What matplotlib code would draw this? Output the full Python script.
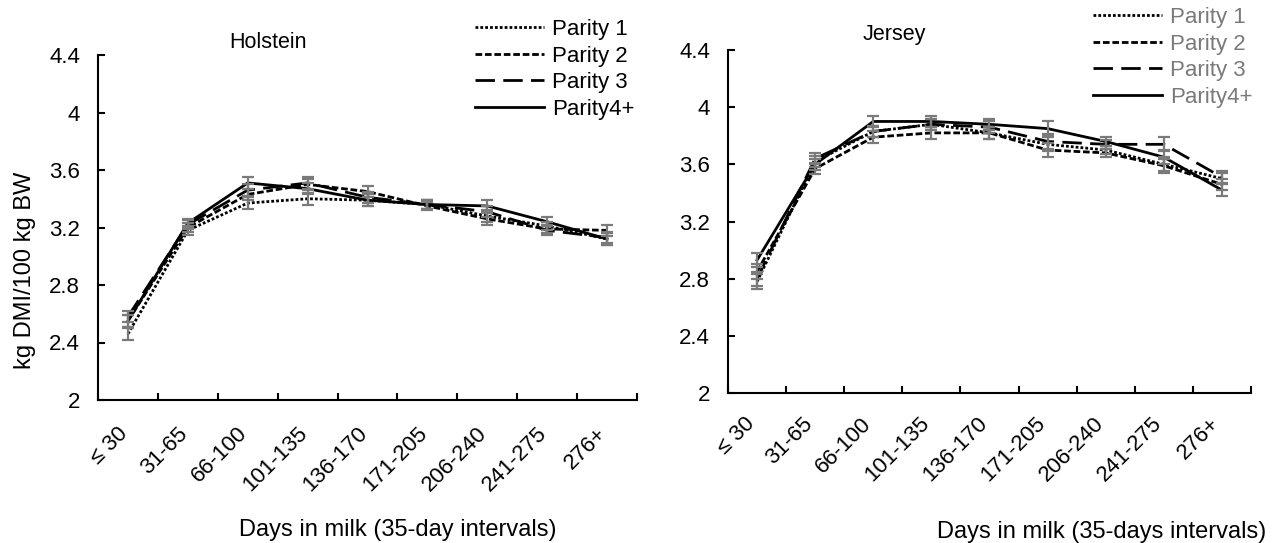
import numpy as np
import matplotlib.pyplot as plt
import matplotlib.transforms as mtransforms

plt.rcParams['font.family'] = ['Liberation Sans', 'DejaVu Sans']

# categories (days in milk, 35-day intervals)
dim_labels = ['≤ 30', '31-65', '66-100', '101-135', '136-170', '171-205',
              '206-240', '241-275', '276+']
parity_names = ['Parity 1', 'Parity 2', 'Parity 3', 'Parity4+']

# Holstein, kg DMI/100 kg BW
hol_p1 = [2.46, 3.18, 3.37, 3.40, 3.39, 3.36, 3.28, 3.21, 3.12]
hol_p2 = [2.55, 3.20, 3.43, 3.50, 3.45, 3.35, 3.26, 3.19, 3.18]
hol_p3 = [2.58, 3.22, 3.46, 3.51, 3.41, 3.36, 3.31, 3.18, 3.13]
hol_p4 = [2.55, 3.23, 3.51, 3.47, 3.39, 3.36, 3.35, 3.24, 3.12]
hol_se = [0.04, 0.03, 0.04, 0.04, 0.04, 0.03, 0.04, 0.03, 0.04]

# Jersey, kg DMI/100 kg BW
jer_p1 = [2.78, 3.62, 3.83, 3.88, 3.82, 3.74, 3.70, 3.60, 3.50]
jer_p2 = [2.85, 3.57, 3.79, 3.82, 3.82, 3.70, 3.68, 3.59, 3.46]
jer_p3 = [2.80, 3.64, 3.83, 3.88, 3.86, 3.76, 3.74, 3.74, 3.51]
jer_p4 = [2.93, 3.60, 3.90, 3.90, 3.88, 3.85, 3.76, 3.65, 3.42]
jer_se = [0.05, 0.04, 0.04, 0.04, 0.04, 0.05, 0.03, 0.05, 0.04]

line_styles = [(0, (1, 0.75)), (0, (2.4, 1)), (0, (7, 3)), '-']

W, H = 1277, 543
fig = plt.figure(figsize=(W / 100, H / 100), dpi=100)
ax1 = fig.add_axes([98 / W, 1 - 400 / H, (637 - 98) / W, 345 / H])
ax2 = fig.add_axes([728 / W, 1 - 393 / H, (1251 - 728) / W, 343 / H])

x = np.arange(len(dim_labels))


def draw_panel(ax, series, se, title, title_xy, leg_anchor, leg_color, lab_pad, lab_shift):
    for vals in series:
        ax.errorbar(x, vals, yerr=se, fmt='none', ecolor='#7a7a7a',
                    elinewidth=1.6, capsize=4.5, capthick=1.6, zorder=3)
    handles = []
    for vals, ls, name in zip(series, line_styles, parity_names):
        h, = ax.plot(x, vals, color='black', lw=2, linestyle=ls, label=name, zorder=2)
        handles.append(h)
    ax.set_xlim(-0.5, len(dim_labels) - 0.5)
    ax.set_ylim(2, 4.4)
    ax.set_yticks(np.arange(2, 4.41, 0.4))
    ax.set_yticklabels(['%g' % round(v, 1) for v in np.arange(2, 4.41, 0.4)])
    ax.set_xticks(np.arange(-0.5, len(dim_labels)), minor=False)
    ax.set_xticklabels([])
    ax.set_xticks(x, minor=True)
    ax.set_xticklabels(dim_labels, minor=True, rotation=45, ha='right', va='top')
    ax.tick_params(axis='x', which='minor', length=0, pad=lab_pad, labelsize=16)
    ax.tick_params(axis='x', which='major', direction='in', length=5, width=1.5)
    ax.tick_params(axis='y', direction='in', length=5, width=1.5, pad=13, labelsize=16)
    off = mtransforms.ScaledTranslation(lab_shift / 100, 0, fig.dpi_scale_trans)
    for lab in ax.get_xticklabels(minor=True):
        lab.set_transform(lab.get_transform() + off)
    for s in ['top', 'right']:
        ax.spines[s].set_visible(False)
    for s in ['left', 'bottom']:
        ax.spines[s].set_linewidth(1.5)
    fig.text(title_xy[0], title_xy[1], title, fontsize=15.5, ha='center', va='center')
    leg = ax.legend(handles=handles, loc='upper left', bbox_to_anchor=leg_anchor,
                    bbox_transform=fig.transFigure, frameon=False, fontsize=16,
                    handlelength=3.1, handletextpad=0.35, labelspacing=0.25,
                    borderpad=0, borderaxespad=0)
    for t in leg.get_texts():
        t.set_color(leg_color)


draw_panel(ax1, [hol_p1, hol_p2, hol_p3, hol_p4], hol_se, 'Holstein',
           (268 / W, 1 - 42 / H), (475 / W, 1 - 19 / H), 'black', 16.5, 4)
draw_panel(ax2, [jer_p1, jer_p2, jer_p3, jer_p4], jer_se, 'Jersey',
           (894 / W, 1 - 34 / H), (1093 / W, 1 - 7 / H), '#7a7a7a', 14.5, 2)

fig.text(25 / W, 1 - 270 / H, 'kg DMI/100 kg BW', rotation=90, fontsize=17,
         ha='center', va='center')
fig.text(398 / W, 1 - 530 / H, 'Days in milk (35-day intervals)', fontsize=17,
         ha='center', va='center')
fig.text(1102 / W, 1 - 532 / H, 'Days in milk (35-days intervals)', fontsize=17,
         ha='center', va='center')

fig.savefig('out.png', dpi=100)
